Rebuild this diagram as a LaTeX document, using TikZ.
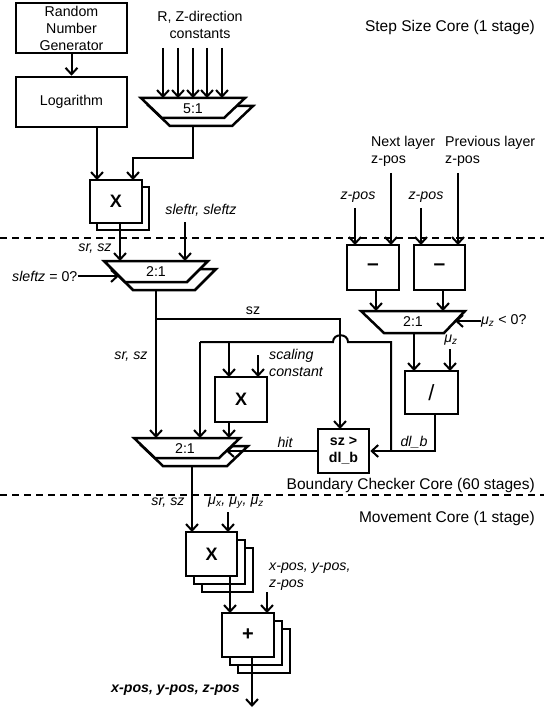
\documentclass[tikz,border=0pt]{standalone}
\usepackage{fontspec}
\setmainfont{Liberation Sans}
\usetikzlibrary{arrows.meta}
\begin{document}
\begin{tikzpicture}[x=1pt,y=-1pt,
  font=\fontsize{14.2}{17}\selectfont,
  wire/.style={line width=2pt},
  arr/.style={wire,-{Straight Barb[length=6.5pt,width=12pt]}},
  box/.style={draw,line width=2.5pt,fill=white,minimum width=52pt,minimum height=44pt,inner sep=0pt,align=center},
  lbl/.style={inner sep=0pt,align=center},
  ilbl/.style={inner sep=0pt,align=center,font=\fontsize{14.2}{17}\selectfont\itshape},
  core/.style={inner sep=0pt,anchor=east,font=\fontsize{15.5}{18}\selectfont},
  muxf/.style={draw,line width=2.5pt,fill=white,line join=miter},
  opx/.style={font=\fontsize{18}{18}\selectfont\bfseries},
  sep/.style={line width=1.1pt,dash pattern=on 7pt off 5pt},
]
\useasboundingbox (0,0) rectangle (544,711);

% ---- Step size core ----
\node[box,minimum width=111pt,minimum height=50pt] (rng) at (71.5,28) {Random\\Number\\Generator};
\node[box,minimum width=111pt,minimum height=50pt] (log) at (71.5,102) {Logarithm};
\draw[arr] (rng.south) -- (log.north);

\node[lbl] (rz) at (200,25) {R, Z-direction\\constants};
\node[core] (ssc) at (535,27) {Step Size Core (1 stage)};

\draw[muxf] (149,106) -- (253,106) -- (232,126) -- (170,126) -- cycle;
\draw[muxf] (141,98) -- (245,98) -- (224,118) -- (162,118) -- cycle;
\node[lbl] (m5) at (193,109) {5:1};
\foreach \x in {163,178,193,207,222} \draw[arr] (\x,48) -- (\x,98);

\node[box,minimum height=43pt] (xs2) at (123,208.5) {};
\node[box,minimum height=43pt,opx] (xs) at (116,201.5) {X};
\draw[arr] (97,127) -- (97,180);
\draw[arr] (193,126) -- (193,158) -- (133,158) -- (133,180);

\node[ilbl] (slr) at (201,210) {sleftr, sleftz};

\draw[sep] (0,238) -- (544,238);

% top 2:1 mux
\draw[muxf] (112,269) -- (216,269) -- (195,290) -- (133,290) -- cycle;
\draw[muxf] (104,261) -- (208,261) -- (187,282) -- (125,282) -- cycle;
\node[lbl] (ma) at (156,271.5) {2:1};
\draw[arr] (120,223) -- (120,261);
\draw[arr] (185,222) -- (185,261);
\node[ilbl] (srsz1) at (95,249) {sr, sz};
\node[lbl,anchor=west] (slz) at (12,276) {\textit{sleftz} = 0?};
\draw[arr] (slz.east) -- (119,276);

% right side inputs
\node[lbl,anchor=west,align=left] (nl) at (371,151) {Next layer\\z-pos};
\node[lbl,anchor=west,align=left] (pl) at (445,151) {Previous layer\\z-pos};
\node[ilbl] (zp1) at (358,197) {z-pos};
\node[ilbl] (zp2) at (426,197) {z-pos};
\draw[arr] (355,208) -- (355,245);
\draw[arr] (391,173) -- (391,245);
\draw[arr] (421,208) -- (421,245);
\draw[arr] (458,173) -- (458,245);
\node[box,minimum height=45pt,font=\fontsize{21}{21}\selectfont\bfseries] (sub1) at (373,267.5) {–};
\node[box,minimum width=51pt,minimum height=45pt,font=\fontsize{21}{21}\selectfont\bfseries] (sub2) at (439.5,267.5) {–};
\draw[arr] (376,290) -- (376,311);
\draw[arr] (443,290) -- (443,311);

\draw[muxf] (361,311) -- (465,311) -- (444,333) -- (384,333) -- cycle;
\node[lbl] (mb) at (413,322) {2:1};
\node[lbl,anchor=west] (muneg) at (481,321) {\textit{μ\textsubscript{z}} < 0?};
\draw[arr] (muneg.west) -- (455,321);
\draw[arr] (414,333) -- (414,371);
\node[ilbl] (muz) at (451,340) {μ\textsubscript{z}};
\draw[arr] (450,349) -- (450,371);
\node[box,minimum width=53pt,minimum height=43pt,font=\fontsize{22}{22}\selectfont] (div) at (431.5,392.5) {/};

% boundary checker
\node[box,minimum width=51pt,minimum height=44pt,font=\fontsize{14.2}{17}\selectfont\bfseries] (cmp) at (343.5,451) {sz >\\dl\_b};
\draw[arr] (156,290) -- (156,438);
\draw[arr] (156,319) -- (340,319) -- (340,429);
\node[lbl] (szl) at (253,311) {sz};
\node[ilbl] (srsz2) at (131,357) {sr, sz};

\draw[arr] (435,414) -- (435,451) -- (cmp.east);
\node[ilbl] (dlb) at (414,442) {dl\_b};
\draw[wire] (391,451) -- (391,342) -- (348,342) .. controls (348,333) and (333,333) .. (333,342) -- (200,342);
\draw[arr] (200,342) -- (200,438);
\draw[arr] (229,342) -- (229,377);
\draw[arr] (258,355) -- (258,377);
\node[ilbl,anchor=west,align=left] (scl) at (269,363) {scaling\\constant};
\node[box,minimum height=45pt,opx] (xsc) at (241,399.5) {X};

% bottom 2:1 mux
\draw[muxf] (142,446) -- (248,446) -- (227,466) -- (163,466) -- cycle;
\draw[muxf] (134,438) -- (240,438) -- (219,458) -- (155,458) -- cycle;
\node[lbl] (mc) at (185,448.5) {2:1};
\draw[arr] (229,422) -- (229,438);
\draw[arr] (cmp.west) -- (226,451);
\node[ilbl] (hit) at (285,442) {hit};

\node[core] (bcc) at (535,485) {Boundary Checker Core (60 stages)};
\draw[sep] (0,495) -- (544,495);
\node[core] (mvc) at (535,518) {Movement Core (1 stage)};

% movement core
\node[ilbl] (srsz3) at (168,503) {sr, sz};
\node[ilbl] (mus) at (236,503) {μ\textsubscript{x}, μ\textsubscript{y}, μ\textsubscript{z}};
\node[box,minimum width=51pt] (xm3) at (227.5,570) {};
\node[box,minimum width=51pt] (xm2) at (219.5,562) {};
\node[box,minimum width=51pt,opx] (xm) at (211.5,554) {X};
\draw[arr] (192,466) -- (192,532);
\draw[arr] (228,512) -- (228,532);

\node[ilbl,anchor=west,align=left] (xyz) at (269,577) {x-pos, y-pos,\\z-pos};
\node[box] (ad3) at (264,651) {};
\node[box] (ad2) at (256,643) {};
\node[box,font=\fontsize{20}{20}\selectfont\bfseries] (ad) at (248,635) {+};
\draw[arr] (230,576) -- (230,613);
\draw[arr] (267,592) -- (267,613);
\draw[arr] (252,657) -- (252,707);
\node[inner sep=0pt,anchor=east,font=\fontsize{14.2}{17}\selectfont\bfseries\itshape] (out) at (240,690) {x-pos, y-pos, z-pos};
\end{tikzpicture}
\end{document}
